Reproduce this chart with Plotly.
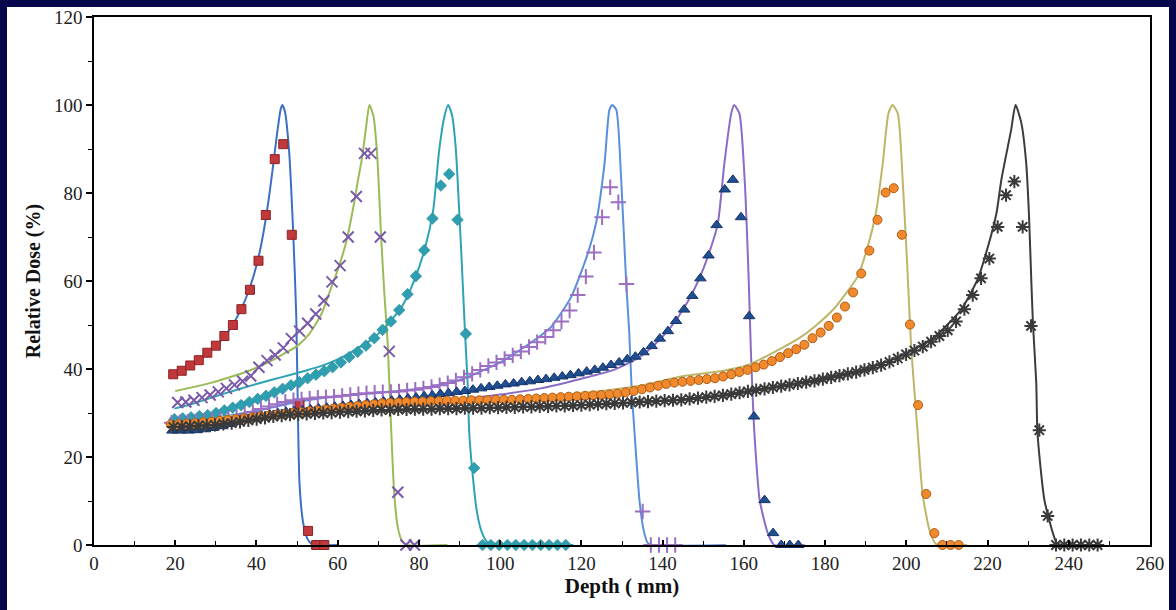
import plotly.graph_objects as go

# ---------------- simulated depth-dose curves (lines) ----------------
sim1_depth = [19.5, 22, 24, 26, 28, 30, 32, 34, 36, 38, 40, 41, 42, 43, 44, 45, 46, 46.4, 47, 48, 49, 49.8, 50.2, 50.6, 51.5, 52.5, 53.5, 54.5, 60]
sim1_dose = [38.2, 39.6, 40.8, 42.1, 43.6, 45.2, 47.3, 49.8, 53.2, 57.5, 63.5, 67.5, 72.5, 78.5, 85.5, 93, 99.2, 100, 98.5, 90, 72, 52, 30, 14, 5, 1.5, 0.3, 0, 0]

sim2_depth = [20, 25, 29, 33, 37, 41, 44, 47, 50, 53, 56, 58, 60, 62, 64, 65, 66, 67, 67.8, 68.8, 69.7, 70.7, 71.5, 72.3, 73, 73.9, 74.8, 75.8, 77, 87]
sim2_dose = [35, 36, 36.9, 38, 39.2, 40.7, 42, 43.6, 45.2, 48, 52.5, 57.5, 62.5, 68.5, 77.5, 83, 88, 95, 100, 97.5, 89, 70, 57, 46, 30, 12, 4, 1, 0, 0]

sim3_depth = [19.8, 24, 28, 32, 36, 40, 44, 48, 52, 56, 60, 64, 68, 72, 76, 79, 81.5, 83.5, 85, 86.3, 87.2, 88.2, 89.1, 89.8, 90.4, 91.4, 92.0, 92.4, 93.2, 94.2, 95.3, 96.5, 97.8, 118]
sim3_dose = [31, 32, 33.2, 34.4, 35.5, 36.6, 37.6, 38.6, 39.6, 40.7, 42.2, 44.2, 46.5, 49.8, 54.5, 60.5, 67.5, 76, 89.8, 97.5, 100, 97.5, 89.8, 78, 67, 47.3, 36.7, 25.4, 16.3, 8, 3.4, 1, 0, 0]

sim4_depth = [19.5, 30, 40, 50, 60, 70, 80, 90, 100, 106, 110, 112.6, 117.5, 121.6, 123.6, 125.7, 126.9, 127.6, 128.6, 129.8, 131, 131.8, 132.4, 133.1, 134.3, 135.3, 136.3, 137.5, 155.6]
sim4_dose = [28.5, 29, 30.5, 32.5, 33.8, 34.6, 35.5, 37.5, 41.5, 45, 47.6, 49.6, 56.4, 66.3, 73.1, 86.7, 98.9, 100, 98.9, 83, 60.2, 48, 35, 25.4, 10.2, 3.5, 0.5, 0, 0]

sim5_depth = [19.3, 30, 40, 50, 60, 70, 80, 90, 100, 110, 120, 128, 134, 138, 142, 146, 149, 151.5, 153.6, 155.2, 156.9, 157.6, 158.9, 160.2, 161.2, 161.7, 162.2, 162.6, 163.9, 165.9, 167.5, 175]
sim5_dose = [27.3, 27.8, 28.9, 30.0, 30.8, 31.6, 32.4, 33.1, 34.2, 35.6, 37.8, 39.8, 42.5, 45.5, 49.5, 55, 60.5, 66.5, 73.1, 86.7, 98.1, 100, 98.1, 83, 60.2, 45, 33, 25.4, 10.2, 2.7, 0, 0]

sim6_depth = [19, 40, 60, 80, 100, 120, 135, 144.5, 155, 161, 169.2, 174.1, 177.4, 182.3, 185, 188, 190.5, 192.5, 194.2, 195.6, 196.6, 197.9, 199.1, 200.2, 201.2, 202, 202.8, 204, 205.7, 207.3, 215]
sim6_dose = [28.7, 29.6, 31.0, 32.3, 33.2, 34.5, 36.3, 38.3, 39.6, 40.9, 44.7, 47.3, 49.6, 53.8, 57, 61, 67.8, 75.4, 86.7, 98.1, 100, 98.1, 83, 64, 45, 35, 25.4, 11.7, 3.4, 0.2, 0]

sim7_depth = [19.5, 30, 40, 50, 60, 80, 100, 120, 145, 161, 177, 190, 198.8, 206.8, 213.5, 217.6, 220.1, 222.2, 223.4, 225.8, 226.9, 228.3, 229.5, 230.2, 230.8, 231.2, 232, 232.3, 234, 236.1, 237.2, 248]
sim7_dose = [27.2, 27.6, 28.7, 29.6, 30.1, 30.7, 31.2, 31.8, 33.0, 34.9, 37.4, 40.0, 43.0, 47.2, 53.5, 60.5, 67.8, 75.4, 83, 94.3, 100, 96, 87, 75, 59.5, 50, 36.7, 25.4, 10.2, 2.7, 0.3, 0]

# ---------------- measured depth-dose points (markers) ----------------
meas1_depth = [19.5, 21.6, 23.7, 25.8, 27.9, 30.0, 32.1, 34.2, 36.3, 38.4, 40.5, 42.3, 44.5, 46.6, 48.7, 50.6, 52.7, 54.7, 56.7]
meas1_dose = [38.8, 39.6, 40.8, 42.0, 43.7, 45.3, 47.5, 50.0, 53.6, 58.0, 64.6, 75.0, 87.7, 91.1, 70.5, 32.0, 3.2, 0, 0]

meas2_depth = [20.6, 22.6, 24.6, 26.6, 28.6, 30.6, 32.6, 34.6, 36.6, 38.6, 40.6, 42.6, 44.6, 46.6, 48.6, 50.6, 52.6, 54.6, 56.6, 58.6, 60.6, 62.6, 64.6, 66.6, 68.2, 70.5, 72.7, 74.8, 76.8, 78.9]
meas2_dose = [32.4, 32.5, 32.9, 33.5, 34.1, 34.8, 35.6, 36.4, 37.2, 38.4, 40.4, 41.9, 43.2, 44.8, 46.9, 48.6, 50.4, 52.5, 55.5, 59.8, 63.5, 70.0, 79.2, 89.0, 89.0, 70.0, 44.0, 12.0, 0, 0]

meas3_depth = [19.8, 21.85, 23.9, 25.95, 28.0, 30.05, 32.1, 34.15, 36.2, 38.25,
               40.3, 42.35, 44.4, 46.45, 48.5, 50.55, 52.6, 54.65, 56.7, 58.75,
               60.8, 62.85, 64.9, 66.95, 69.0, 71.05, 73.1, 75.15, 77.2, 79.25,
               81.3, 83.35, 85.4, 87.45, 89.5, 91.55, 93.6, 95.65, 97.7, 99.75,
               101.8, 103.85, 105.9, 107.95, 110.0, 112.05, 114.1, 116.15]
meas3_dose = [28.6, 28.8, 29.0, 29.3, 29.5, 30.0, 30.6, 31.2, 31.8, 32.5,
              33.2, 33.9, 34.7, 35.5, 36.3, 37.0, 37.9, 38.7, 39.5, 40.4,
              41.5, 42.7, 43.9, 45.3, 47.0, 48.9, 50.8, 53.4, 57.0, 61.1,
              67.0, 74.2, 81.7, 84.3, 73.9, 48.0, 17.5, 0, 0, 0,
              0, 0, 0, 0, 0, 0, 0, 0]

meas4_depth = [19.1, 21.1, 23.1, 25.1, 27.1, 29.1, 31.1, 33.1, 35.1, 37.1,
               39.1, 41.1, 43.1, 45.1, 47.1, 49.1, 51.1, 53.1, 55.1, 57.1,
               59.1, 61.1, 63.1, 65.1, 67.1, 69.1, 71.1, 73.1, 75.1, 77.1,
               79.1, 81.1, 83.1, 85.1, 87.1, 89.1, 91.1, 93.1, 95.1, 97.1,
               99.1, 101.1, 103.1, 105.1, 107.1, 109.1, 111.1, 113.1, 115.1, 117.1,
               119.1, 121.1, 123.1, 125.1, 127.1, 129.1, 131.1, 135.1, 137.1, 139.1,
               141.1, 143.1]
meas4_dose = [27.8, 27.9, 28.0, 28.1, 28.3, 28.4, 28.6, 28.8, 29.1, 29.6,
              30.2, 30.9, 31.5, 32.0, 32.5, 32.9, 33.1, 33.3, 33.5, 33.6,
              33.7, 33.9, 34.1, 34.3, 34.5, 34.6, 34.7, 34.8, 34.9, 35.1,
              35.3, 35.6, 35.9, 36.3, 36.8, 37.4, 38.1, 38.9, 39.8, 40.7,
              41.5, 42.3, 43.1, 44.0, 45.0, 46.1, 47.3, 48.8, 50.8, 53.3,
              56.8, 61.0, 66.5, 74.5, 81.3, 77.9, 59.3, 7.6, 0, 0,
              0, 0]

meas5_depth = [19.3, 21.3, 23.3, 25.3, 27.3, 29.3, 31.3, 33.3, 35.3, 37.3,
               39.3, 41.3, 43.3, 45.3, 47.3, 49.3, 51.3, 53.3, 55.3, 57.3,
               59.3, 61.3, 63.3, 65.3, 67.3, 69.3, 71.3, 73.3, 75.3, 77.3,
               79.3, 81.3, 83.3, 85.3, 87.3, 89.3, 91.3, 93.3, 95.3, 97.3,
               99.3, 101.3, 103.3, 105.3, 107.3, 109.3, 111.3, 113.3, 115.3, 117.3,
               119.3, 121.3, 123.3, 125.3, 127.3, 129.3, 131.3, 133.3, 135.3, 137.3,
               139.3, 141.3, 143.3, 145.3, 147.3, 149.3, 151.3, 153.3, 155.3, 157.3,
               159.3, 161.3, 162.5, 165.1, 167.2, 169.2, 171.3, 173.4]
meas5_dose = [26.0, 26.0, 26.0, 26.1, 26.3, 26.6, 27.0, 27.5, 28.0, 28.5,
              28.9, 29.3, 29.6, 29.9, 30.2, 30.4, 30.6, 30.8, 31.0, 31.2,
              31.4, 31.6, 31.8, 32.0, 32.2, 32.4, 32.6, 32.8, 33.0, 33.3,
              33.5, 33.8, 34.0, 34.3, 34.5, 34.8, 35.0, 35.3, 35.6, 35.9,
              36.2, 36.5, 36.7, 37.0, 37.2, 37.5, 37.7, 38.0, 38.3, 38.6,
              39.0, 39.4, 39.8, 40.3, 40.9, 41.5, 42.2, 42.8, 43.8, 45.2,
              46.9, 48.6, 50.9, 53.5, 56.6, 60.6, 65.8, 72.7, 80.8, 83.0,
              74.5, 52.0, 29.2, 10.2, 2.7, 0, 0, 0]

meas6_depth = [18.9, 20.9, 22.9, 24.9, 26.9, 28.9, 30.9, 32.9, 34.9, 36.9,
               38.9, 40.9, 42.9, 44.9, 46.9, 48.9, 50.9, 52.9, 54.9, 56.9,
               58.9, 60.9, 62.9, 64.9, 66.9, 68.9, 70.9, 72.9, 74.9, 76.9,
               78.9, 80.9, 82.9, 84.9, 86.9, 88.9, 90.9, 92.9, 94.9, 96.9,
               98.9, 100.9, 102.9, 104.9, 106.9, 108.9, 110.9, 112.9, 114.9, 116.9,
               118.9, 120.9, 122.9, 124.9, 126.9, 128.9, 130.9, 132.9, 134.9, 136.9,
               138.9, 140.9, 142.9, 144.9, 146.9, 148.9, 150.9, 152.9, 154.9, 156.9,
               158.9, 160.9, 162.9, 164.9, 166.9, 168.9, 170.9, 172.9, 174.9, 176.9,
               178.9, 180.9, 182.9, 184.9, 186.9, 188.9, 190.9, 192.9, 194.9, 196.9,
               198.9, 200.9, 202.9, 204.9, 206.9, 208.9, 210.9, 212.9]
meas6_dose = [27.4, 27.5, 27.6, 27.7, 27.9, 28.0, 28.2, 28.4, 28.6, 28.8,
              29.0, 29.2, 29.4, 29.6, 29.8, 30.0, 30.2, 30.4, 30.6, 30.8,
              31.0, 31.2, 31.4, 31.6, 31.8, 32.0, 32.2, 32.3, 32.4, 32.5,
              32.6, 32.6, 32.7, 32.7, 32.8, 32.8, 32.8, 32.9, 32.9, 32.9,
              33.0, 33.0, 33.0, 33.1, 33.2, 33.3, 33.4, 33.5, 33.6, 33.7,
              33.8, 33.9, 34.0, 34.1, 34.2, 34.4, 34.7, 35.0, 35.4, 35.8,
              36.2, 36.6, 36.9, 37.1, 37.3, 37.5, 37.7, 37.9, 38.3, 38.8,
              39.3, 39.8, 40.4, 41.0, 41.8, 42.7, 43.6, 44.5, 45.5, 47.0,
              48.3, 49.8, 51.7, 54.2, 57.4, 61.7, 66.9, 73.9, 80.1, 81.1,
              70.5, 50.1, 31.8, 11.6, 2.7, 0, 0, 0]

meas7_depth = [19.55, 21.6, 23.65, 25.7, 27.75, 29.8, 31.85, 33.9, 35.95, 38.0,
               40.05, 42.1, 44.15, 46.2, 48.25, 50.3, 52.35, 54.4, 56.45, 58.5,
               60.55, 62.6, 64.65, 66.7, 68.75, 70.8, 72.85, 74.9, 76.95, 79.0,
               81.05, 83.1, 85.15, 87.2, 89.25, 91.3, 93.35, 95.4, 97.45, 99.5,
               101.55, 103.6, 105.65, 107.7, 109.75, 111.8, 113.85, 115.9, 117.95, 120.0,
               122.05, 124.1, 126.15, 128.2, 130.25, 132.3, 134.35, 136.4, 138.45, 140.5,
               142.55, 144.6, 146.65, 148.7, 150.75, 152.8, 154.85, 156.9, 158.95, 161.0,
               163.05, 165.1, 167.15, 169.2, 171.25, 173.3, 175.35, 177.4, 179.45, 181.5,
               183.55, 185.6, 187.65, 189.7, 191.75, 193.8, 195.85, 197.9, 199.95, 202.0,
               204.05, 206.1, 208.15, 210.2, 212.25, 214.3, 216.35, 218.4, 220.45, 222.5,
               224.55, 226.6, 228.65, 230.7, 232.75, 234.8, 236.85, 238.9, 240.95, 243.0,
               245.05, 247.1]
meas7_dose = [26.8, 26.9, 27.0, 27.1, 27.2, 27.3, 27.5, 27.7, 28.0, 28.3,
              28.6, 28.9, 29.2, 29.4, 29.6, 29.7, 29.8, 29.9, 30.0, 30.1,
              30.2, 30.3, 30.4, 30.5, 30.6, 30.7, 30.7, 30.8, 30.8, 30.9,
              30.9, 30.9, 31.0, 31.0, 31.0, 31.1, 31.1, 31.1, 31.2, 31.2,
              31.3, 31.3, 31.4, 31.4, 31.5, 31.5, 31.6, 31.6, 31.7, 31.8,
              31.9, 32.0, 32.1, 32.2, 32.3, 32.4, 32.5, 32.6, 32.7, 32.8,
              32.9, 33.0, 33.2, 33.4, 33.6, 33.8, 34.0, 34.3, 34.6, 34.9,
              35.2, 35.5, 35.8, 36.1, 36.4, 36.7, 37.0, 37.3, 37.7, 38.1,
              38.5, 38.9, 39.3, 39.8, 40.3, 40.9, 41.6, 42.4, 43.3, 44.2,
              45.1, 46.2, 47.5, 48.8, 50.8, 53.6, 56.8, 60.6, 65.1, 72.3,
              79.5, 82.6, 72.3, 49.8, 26.1, 6.6, 0, 0, 0, 0,
              0, 0]

# ---------------- styles ----------------
line_colors = ["#3d6fc4", "#9bbb59", "#2ea3b5", "#5a8fdc", "#8a6cc4", "#bdb66a", "#3c3c3c"]

sims = [(sim1_depth, sim1_dose), (sim2_depth, sim2_dose), (sim3_depth, sim3_dose),
        (sim4_depth, sim4_dose), (sim5_depth, sim5_dose), (sim6_depth, sim6_dose),
        (sim7_depth, sim7_dose)]

meas = [
    (meas1_depth, meas1_dose, dict(symbol="square", size=9, color="#c0393b", line=dict(color="#8e2224", width=1))),
    (meas2_depth, meas2_dose, dict(symbol="x-thin-open", size=11, color="#7a5aa8", line=dict(color="#7a5aa8", width=2))),
    (meas3_depth, meas3_dose, dict(symbol="diamond", size=9, color="#2e9fb0", line=dict(color="#23808e", width=0.5))),
    (meas4_depth, meas4_dose, dict(symbol="cross-thin-open", size=11, color="#9c6fc2", line=dict(color="#9c6fc2", width=2))),
    (meas5_depth, meas5_dose, dict(symbol="triangle-up", size=10, color="#1f4f91", line=dict(color="#15336b", width=1))),
    (meas6_depth, meas6_dose, dict(symbol="circle", size=9, color="#f08a2c", line=dict(color="#b35a12", width=1))),
    (meas7_depth, meas7_dose, dict(symbol="asterisk-open", size=11, color="#3a3a3a", line=dict(color="#3a3a3a", width=2))),
]

fig = go.Figure()

for (d, v), c in zip(sims, line_colors):
    fig.add_trace(go.Scatter(x=d, y=v, mode="lines",
                             line=dict(color=c, width=2, shape="spline", smoothing=0.6),
                             showlegend=False, hoverinfo="skip"))

for d, v, mk in meas:
    fig.add_trace(go.Scatter(x=d, y=v, mode="markers", marker=mk,
                             showlegend=False, cliponaxis=False))

serif = "Liberation Serif, Times New Roman, serif"

# plot area in pixels: x 94..1150, y 17..545 on a 1176x610 canvas
L, R, T, B = 94, 26, 17, 65
W, H = 1176, 610
pw, ph = W - L - R, H - T - B

# white panel on the navy page
fig.add_shape(type="rect", xref="paper", yref="paper", layer="below",
              x0=(7 - L) / pw, x1=(W - 7 - L) / pw,
              y0=(H - B - H) / ph, y1=(H - B - 7) / ph,
              fillcolor="white", line=dict(width=0))

fig.update_layout(
    width=W, height=H,
    margin=dict(l=L, r=R, t=T, b=B, autoexpand=False),
    paper_bgcolor="#06064d",
    plot_bgcolor="rgba(0,0,0,0)",
    showlegend=False,
    font=dict(family=serif, size=19, color="#222222"),
)

fig.update_xaxes(
    range=[0, 260], dtick=20, tick0=0, showgrid=False, zeroline=False,
    showline=True, linecolor="black", linewidth=1.5, mirror=True,
    ticks="inside", ticklen=5, tickwidth=1.5, tickcolor="black",
    minor=dict(dtick=10, ticks="inside", ticklen=4, tickwidth=1, tickcolor="black"),
    tickfont=dict(family=serif, size=19, color="#222222"),
    title=dict(text="<b>Depth ( mm)</b>", font=dict(family=serif, size=21, color="#111111"), standoff=6),
    automargin=False,
)
fig.update_yaxes(
    range=[0, 120], dtick=20, tick0=0, showgrid=False, zeroline=False,
    showline=True, linecolor="black", linewidth=1.5, mirror=True,
    ticks="outside", ticklen=6, tickwidth=1.5, tickcolor="black",
    minor=dict(dtick=10, ticks="outside", ticklen=4, tickwidth=1, tickcolor="black"),
    tickfont=dict(family=serif, size=19, color="#222222"),
    title=dict(text="<b>Relative Dose (%)</b>", font=dict(family=serif, size=20, color="#111111"), standoff=8),
    automargin=False,
)

fig.write_html("out.html")
